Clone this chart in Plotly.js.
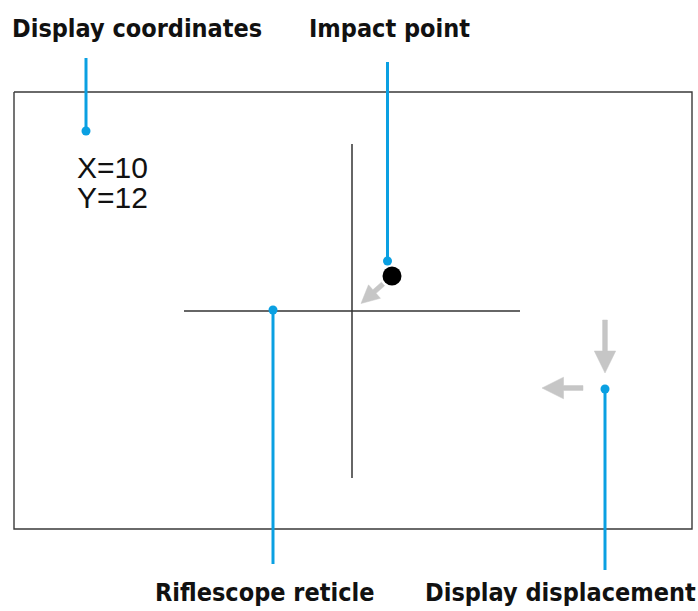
<!DOCTYPE html>
<html>
<head>
<meta charset="utf-8">
<script src="https://cdn.plot.ly/plotly-3.0.1.min.js"></script>
<style>html,body{margin:0;padding:0;background:#fff;}#chart{width:698px;height:611px;}</style>
</head>
<body>
<div id="chart"></div>
<script>
// ---- Diagram data (pixel-space coordinates of the scheme) ----
const frameX = [14, 692, 692, 14, 14];
const frameY = [92, 92, 529, 529, 92];

const reticleHX = [184, 520];
const reticleHY = [311, 311];
const reticleVX = [352, 352];
const reticleVY = [144, 478];

const impactX = [392];
const impactY = [276];

// arrows: tail x, tail y, tip x, tip y, head length, head half-width, shaft half-width
const arrowTailX = [383, 605, 583];
const arrowTailY = [284, 320, 388];
const arrowTipX  = [361, 605, 542];
const arrowTipY  = [303.5, 373, 388];
const arrowHeadLen = [18, 22, 21.5];
const arrowHeadHalf = [9, 10.7, 10.8];
const arrowShaftHalf = [2.4, 2.4, 2.4];

// leader lines: x, dot y, far end y
const leaderNames = ["Display coordinates", "Impact point", "Riflescope reticle", "Display displacement"];
const leaderX    = [86, 387.5, 273, 605];
const leaderDotY = [131, 261, 310, 389];
const leaderEndY = [58, 62, 564, 570];

// labels
const labelText = ["Display coordinates", "Impact point", "Riflescope reticle", "Display displacement"];
const labelX = [10, 389, 264, 560];
const labelY = [28, 28, 592, 592];
const labelAnchor = ["left", "center", "center", "center"];

const coordText = ["X=10", "Y=12"];
const coordX = [75, 75];
const coordY = [167, 197];

// ---- Build traces ----
const blue = "#0aa0e2";
const grey = "#c6c6c6";
const dark = "#333333";
const traces = [];

traces.push({x: frameX, y: frameY, mode: "lines", line: {color: "#3a3a3a", width: 1.4}, hoverinfo: "skip"});
traces.push({x: reticleHX, y: reticleHY, mode: "lines", line: {color: dark, width: 1.5}, hoverinfo: "skip"});
traces.push({x: reticleVX, y: reticleVY, mode: "lines", line: {color: dark, width: 1.5}, hoverinfo: "skip"});

for (let i = 0; i < arrowTailX.length; i++) {
  const dx = arrowTipX[i] - arrowTailX[i], dy = arrowTipY[i] - arrowTailY[i];
  const L = Math.hypot(dx, dy);
  const ux = dx / L, uy = dy / L, px = -uy, py = ux;
  const bx = arrowTipX[i] - ux * arrowHeadLen[i], by = arrowTipY[i] - uy * arrowHeadLen[i];
  const s = arrowShaftHalf[i], h = arrowHeadHalf[i];
  const xs = [arrowTailX[i] + px * s, bx + px * s, bx + px * h, arrowTipX[i], bx - px * h, bx - px * s, arrowTailX[i] - px * s, arrowTailX[i] + px * s];
  const ys = [arrowTailY[i] + py * s, by + py * s, by + py * h, arrowTipY[i], by - py * h, by - py * s, arrowTailY[i] - py * s, arrowTailY[i] + py * s];
  traces.push({x: xs, y: ys, mode: "lines", fill: "toself", fillcolor: grey, line: {color: grey, width: 0.5}, hoverinfo: "skip"});
}

traces.push({x: impactX, y: impactY, mode: "markers", marker: {color: "#000", size: 19, line: {width: 0}}, hoverinfo: "skip"});

for (let i = 0; i < leaderX.length; i++) {
  traces.push({x: [leaderX[i], leaderX[i]], y: [leaderDotY[i], leaderEndY[i]], mode: "lines", line: {color: blue, width: 3}, hoverinfo: "skip", name: leaderNames[i]});
}
traces.push({x: leaderX, y: leaderDotY, mode: "markers", marker: {color: blue, size: 9, line: {width: 0}}, hoverinfo: "skip"});

const annotations = [];
for (let i = 0; i < labelText.length; i++) {
  annotations.push({x: labelX[i], y: labelY[i], xref: "x", yref: "y", text: labelText[i], showarrow: false,
    xanchor: labelAnchor[i], yanchor: "middle",
    font: {family: "'DejaVu Sans Condensed', 'DejaVu Sans', sans-serif", size: 25, weight: 700, stretch: "condensed", color: "#111"}});
}
for (let i = 0; i < coordText.length; i++) {
  annotations.push({x: coordX[i], y: coordY[i], xref: "x", yref: "y", text: coordText[i], showarrow: false,
    xanchor: "left", yanchor: "middle",
    font: {family: "'Liberation Sans', Arial, sans-serif", size: 30, color: "#111"}});
}

const layout = {
  width: 698, height: 611,
  margin: {l: 0, r: 0, t: 0, b: 0},
  paper_bgcolor: "#fff", plot_bgcolor: "#fff",
  showlegend: false,
  xaxis: {range: [0, 698], visible: false, fixedrange: true},
  yaxis: {range: [611, 0], visible: false, fixedrange: true},
  annotations: annotations,
  hovermode: false
};

Plotly.newPlot("chart", traces, layout, {displayModeBar: false, staticPlot: true});
</script>
</body>
</html>
